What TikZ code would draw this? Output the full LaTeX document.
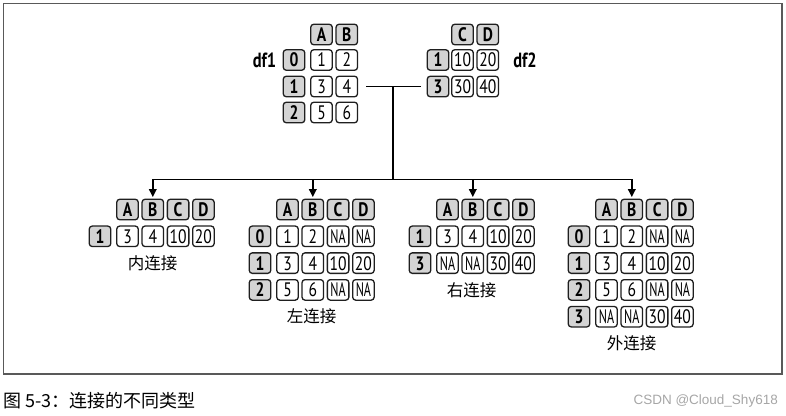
\documentclass[tikz,border=0pt]{standalone}
\usepackage{fontspec}
\setmainfont{PT Sans}
\newfontfamily\cellfont[FakeStretch=0.8]{PT Sans}
\newfontfamily\cjk{Noto Sans CJK SC}
\newfontfamily\wmfont{Liberation Sans}
\usetikzlibrary{arrows.meta}
\newcommand\NA{\scalebox{0.78}[1]{NA}}
\tikzset{
  cellbase/.style={draw=black!88, line width=1.3pt, rounded corners=3pt,
    minimum width=21.5pt, minimum height=20.5pt, inner sep=0pt,
    text height=13.8pt, text depth=0pt},
  hdr/.style={cellbase, fill=black!17, font=\cellfont\bfseries\fontsize{19.5}{19.5}\selectfont},
  idx/.style={cellbase, fill=black!17, font=\cellfont\bfseries\fontsize{19.5}{19.5}\selectfont},
  dat/.style={cellbase, fill=white, font=\cellfont\fontsize{19.5}{19.5}\selectfont},
  lbl/.style={font=\cjk\fontsize{16.5}{16.5}\selectfont, inner sep=0pt},
  dflbl/.style={font=\cellfont\bfseries\fontsize{20.5}{20.5}\selectfont, inner sep=0pt},
  conn/.style={line width=1.8pt, black},
  arr/.style={conn, -{Triangle[length=8pt,width=7.5pt]}, shorten >=1.5pt},
}
% row: name, index x, first data x, y, index text, values
\newcommand\trow[6]{%
  \node[idx] (#1i) at (#2,#4) {#5};
  \foreach \v [count=\k] in {#6} {\node[dat] (#1c\k) at ({#3+25.3*(\k-1)},#4) {\v};}
}
% header: name, first x, y, letters
\newcommand\thdr[4]{%
  \foreach \v [count=\k] in {#4} {\node[hdr] (#1c\k) at ({#2+25.3*(\k-1)},#3) {\v};}
}
\begin{document}
\begin{tikzpicture}[x=1pt,y=-1pt]
\useasboundingbox (0,0) rectangle (786,415);
\draw[black!65, line width=1.2pt] (3.5,3.5) rectangle (782,374);

% df1
\thdr{d1h}{321.5}{34.5}{A,B}
\trow{d1r0}{294}{321.5}{60}{0}{1,2}
\trow{d1r1}{294}{321.5}{86.5}{1}{3,4}
\trow{d1r2}{294}{321.5}{112.5}{2}{5,6}
\node[dflbl] (df1) at (264.5,60) {df1};

% df2
\thdr{d2h}{462.5}{34.5}{C,D}
\trow{d2r0}{438}{462.5}{60}{1}{10,20}
\trow{d2r1}{438}{462.5}{86.5}{3}{30,40}
\node[dflbl] (df2) at (525,60) {df2};

% inner
\thdr{inh}{127.5}{209.5}{A,B,C,D}
\trow{inr0}{100}{127.5}{236.3}{1}{3,4,10,20}
\node[lbl] (inl) at (152.5,263) {内连接};

% left
\thdr{lfh}{287.5}{209.5}{A,B,C,D}
\trow{lfr0}{260}{287.5}{236.3}{0}{1,2,\NA,\NA}
\trow{lfr1}{260}{287.5}{263.1}{1}{3,4,10,20}
\trow{lfr2}{260}{287.5}{289.9}{2}{5,6,\NA,\NA}
\node[lbl] (lfl) at (311.5,316) {左连接};

% right
\thdr{rth}{447.5}{209.5}{A,B,C,D}
\trow{rtr0}{420}{447.5}{236.3}{1}{3,4,10,20}
\trow{rtr1}{420}{447.5}{263.1}{3}{\NA,\NA,30,40}
\node[lbl] (rtl) at (471.5,290) {右连接};

% outer
\thdr{ouh}{606.5}{209.5}{A,B,C,D}
\trow{our0}{579}{606.5}{236.3}{0}{1,2,\NA,\NA}
\trow{our1}{579}{606.5}{263.1}{1}{3,4,10,20}
\trow{our2}{579}{606.5}{289.9}{2}{5,6,\NA,\NA}
\trow{our3}{579}{606.5}{316.7}{3}{\NA,\NA,30,40}
\node[lbl] (oul) at (631.5,343) {外连接};

% connectors
\coordinate (hub) at (393,179.5);
\coordinate (j) at (393,86.5);
\draw[conn] ([xshift=8pt]d1r1c2.east) -- ([xshift=-6pt]d2r1i.west);
\draw[conn] (j) -- (hub);
\draw[arr] (hub) -| (inhc2.north);
\draw[arr] (hub) -| (lfhc2.north);
\draw[arr] (hub) -| (rthc2.north);
\draw[arr] (hub) -| (ouhc2.north);

% caption
\node[anchor=west, inner sep=0pt, font=\cjk\fontsize{18}{18}\selectfont] (cap) at (3,401) {图 5-3：连接的不同类型};
\node[anchor=east, inner sep=0pt, text=black!35, font=\wmfont\fontsize{13.5}{13.5}\selectfont] (wm) at (778,401) {CSDN @Cloud\_Shy618};
\end{tikzpicture}
\end{document}
